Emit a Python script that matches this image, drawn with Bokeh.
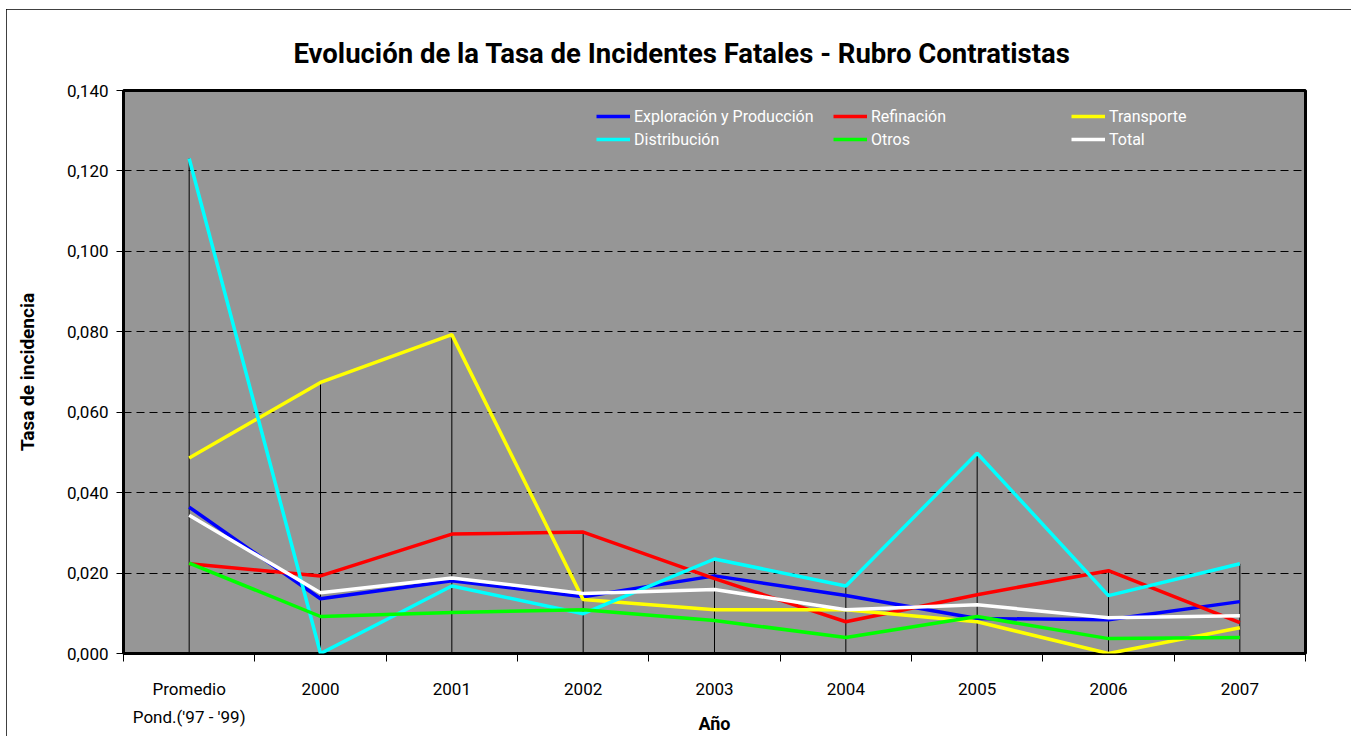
import numpy as np
from bokeh.plotting import figure
from bokeh.models import (FixedTicker, CustomJSTickFormatter, Legend, LegendItem,
                          ColumnDataSource)
from bokeh.embed import file_html
from bokeh.resources import INLINE

# ---------------- data ----------------
categories = ["Promedio\nPond.('97 - '99)", "2000", "2001", "2002", "2003",
              "2004", "2005", "2006", "2007"]
exploracion = [0.0364, 0.0136, 0.0181, 0.0141, 0.0193, 0.0144, 0.0087, 0.0084, 0.0129]
refinacion = [0.0223, 0.0193, 0.0297, 0.0302, 0.0186, 0.0079, 0.0146, 0.0206, 0.0077]
transporte = [0.0486, 0.0674, 0.0793, 0.0134, 0.0109, 0.0109, 0.0079, 0.0000, 0.0064]
distribucion = [0.1231, 0.0000, 0.0168, 0.0099, 0.0235, 0.0168, 0.0498, 0.0144, 0.0223]
otros = [0.0225, 0.0092, 0.0102, 0.0109, 0.0082, 0.0040, 0.0092, 0.0037, 0.0040]
total = [0.0344, 0.0151, 0.0188, 0.0149, 0.0159, 0.0109, 0.0121, 0.0089, 0.0094]

series_names = ["Exploración y Producción", "Refinación", "Transporte",
                "Distribución", "Otros", "Total"]
series_values = [exploracion, refinacion, transporte, distribucion, otros, total]
series_colors = ["#0000FF", "#FF0000", "#FFFF00", "#00FFFF", "#00FF00", "#FFFFFF"]
y_ticks = [0.0, 0.02, 0.04, 0.06, 0.08, 0.10, 0.12, 0.14]

FONT = "Roboto"

x = list(range(len(categories)))

p = figure(width=1345, height=727, output_backend="svg", toolbar_location=None,
           x_range=(-0.5, len(categories) - 0.5), y_range=(0, 0.14),
           min_border_left=117, min_border_right=46, min_border_top=81,
           min_border_bottom=81)

p.background_fill_color = "#969696"
p.border_fill_color = "white"
p.outline_line_color = "black"
p.outline_line_width = 3
p.styles = {"margin-left": "6px", "margin-top": "9px",
            "outline": "1px solid black", "outline-offset": "-1px"}

# title
p.title.text = "Evolución de la Tasa de Incidentes Fatales - Rubro Contratistas"
p.title.text_font = FONT
p.title.text_font_size = "27.5px"
p.title.text_font_style = "bold"
p.title.text_color = "black"
p.title.align = "left"
p.title.offset = 170
p.title.standoff = 42

# grid
p.xgrid.grid_line_color = None
p.ygrid.grid_line_color = "black"
p.ygrid.grid_line_dash = "8 5"
p.ygrid.grid_line_width = 1
p.ygrid.ticker = FixedTicker(ticks=y_ticks)

# x axis
xa = p.xaxis[0]
xa.ticker = FixedTicker(ticks=x, minor_ticks=[i - 0.5 for i in range(len(categories) + 1)])
xa.major_label_overrides = {i: c for i, c in zip(x, categories)}
xa.major_tick_in = 0
xa.major_tick_out = 0
xa.minor_tick_in = 0
xa.minor_tick_out = 8
xa.minor_tick_line_color = "black"
xa.axis_line_color = None
xa.major_label_text_font = FONT
xa.major_label_text_font_size = "17px"
xa.major_label_text_color = "black"
xa.major_label_text_line_height = 1.4
xa.major_label_standoff = 17
xa.axis_label = "Año"
xa.axis_label_text_font = FONT
xa.axis_label_text_font_size = "18px"
xa.axis_label_text_font_style = "bold"
xa.axis_label_text_color = "black"
xa.axis_label_standoff = -17

# y axis
ya = p.yaxis[0]
ya.ticker = FixedTicker(ticks=y_ticks, minor_ticks=[])
ya.formatter = CustomJSTickFormatter(code="return tick.toFixed(3).replace('.', ',');")
ya.major_tick_in = 0
ya.major_tick_out = 7
ya.major_tick_line_color = "black"
ya.minor_tick_line_color = None
ya.axis_line_color = None
ya.major_label_text_font = FONT
ya.major_label_text_font_size = "17px"
ya.major_label_text_color = "black"
ya.major_label_standoff = 8
ya.axis_label = "Tasa de incidencia"
ya.axis_label_text_font = FONT
ya.axis_label_text_font_size = "19px"
ya.axis_label_text_font_style = "bold"
ya.axis_label_text_color = "black"
ya.axis_label_standoff = 25

# drop lines (from axis to the highest value per category)
maxima = np.max(np.array(series_values), axis=0)
p.segment(x0=x, y0=[0] * len(x), x1=x, y1=maxima, line_color="black", line_width=1)

renderers = []
for name, vals, col in zip(series_names, series_values, series_colors):
    src = ColumnDataSource(dict(x=x, y=vals))
    r = p.line("x", "y", source=src, line_color=col, line_width=3.5)
    renderers.append((name, r))

# legends: three columns of two entries each
columns = [[0, 3], [1, 4], [2, 5]]
col_x = [473, 710, 948]
for cx, idxs in zip(col_x, columns):
    lg = Legend(items=[LegendItem(label=renderers[i][0], renderers=[renderers[i][1]]) for i in idxs],
                location=(cx, 504), padding=0, margin=0, spacing=3,
                glyph_width=34, glyph_height=20, label_height=20, label_standoff=4,
                label_text_font=FONT, label_text_font_size="16px",
                label_text_color="white", background_fill_alpha=0,
                border_line_alpha=0)
    p.add_layout(lg, "center")

open("out.html", "w").write(file_html(p, INLINE))
